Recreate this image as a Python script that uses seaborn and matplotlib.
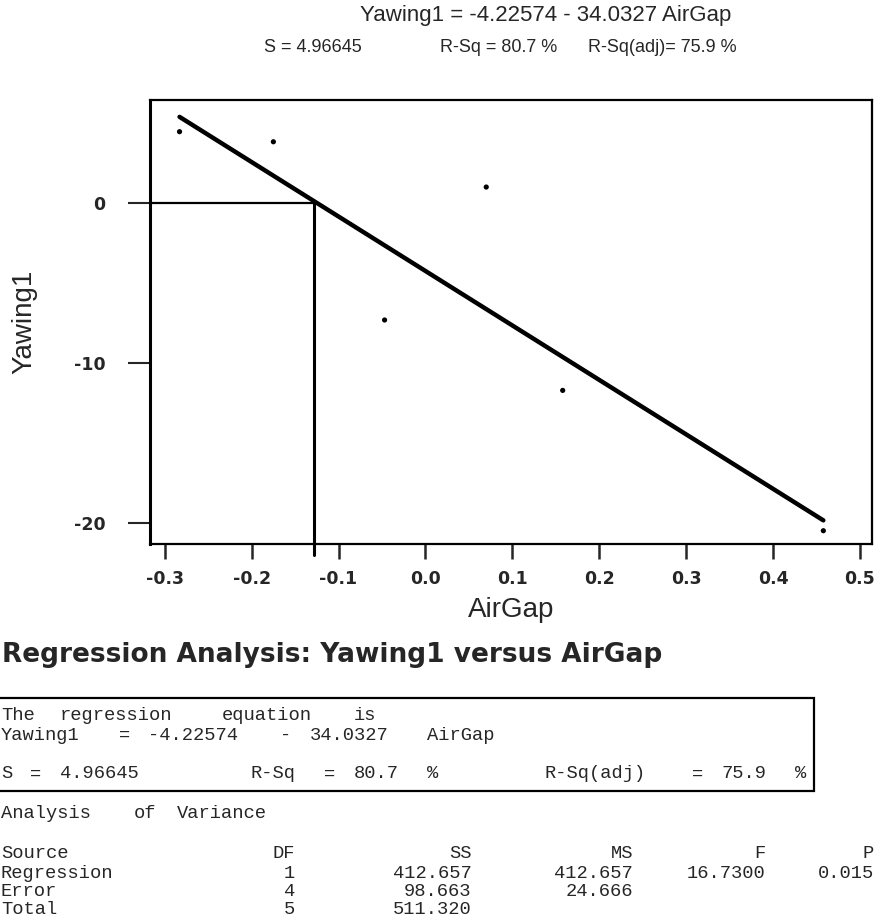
import re
import numpy as np
import pandas as pd
import matplotlib.pyplot as plt
from matplotlib.patches import Rectangle
import seaborn as sns

# Values
air_gap = [-0.283, -0.175, 0.070, -0.047, 0.158, 0.458]
yawing = [4.48, 3.85, 1.02, -7.29, -11.69, -20.46]

# Fitted equation and the marked point where the fit crosses zero
intercept = -4.22574
slope = -34.0327
air_gap_marked = -0.128

x_ticks = [-0.3, -0.2, -0.1, 0.0, 0.1, 0.2, 0.3, 0.4, 0.5]
x_tick_labels = ['-0.3', '-0.2', '-0.1', '0.0', '0.1', '0.2', '0.3', '0.4', '0.5']
y_ticks = [0, -10, -20]
y_tick_labels = ['0', '-10', '-20']

s_value = '4.96645'
r_sq = '80.7'
r_sq_adj = '75.9'

anova_source = ['Regression', 'Error', 'Total']
anova_df = ['1', '4', '5']
anova_ss = ['412.657', '98.663', '511.320']
anova_ms = ['412.657', '24.666', '']
anova_f = ['16.7300', '', '']
anova_p = ['0.015', '', '']

sns.set_style("white")
plt.rcParams['font.family'] = ['DejaVu Sans']
plt.rcParams['axes.unicode_minus'] = False

W, H = 877, 918
fig = plt.figure(figsize=(W / 100, H / 100), dpi=100)
ax = fig.add_axes([150 / W, 1 - 544 / H, 722 / W, 444 / H])

df_pts = pd.DataFrame({'AirGap': air_gap, 'Yawing1': yawing})
x_fit = np.array([min(air_gap), max(air_gap)])
df_fit = pd.DataFrame({'AirGap': x_fit, 'Yawing1': intercept + slope * x_fit})

sns.lineplot(ax=ax, data=df_fit, x='AirGap', y='Yawing1', color='black', linewidth=3.2)
sns.scatterplot(ax=ax, data=df_pts, x='AirGap', y='Yawing1', color='black', s=14, edgecolor='none')

# reference lines at Yawing1 = 0
ax.plot([-0.317, air_gap_marked], [0, 0], color='black', linewidth=1.6)
ax.plot([air_gap_marked, air_gap_marked], [0, -22.0], color='black', linewidth=2.2, clip_on=False)

ax.set_xlim(-0.317, 0.514)
ax.set_ylim(-21.29, 6.46)
ax.set_xticks(x_ticks)
ax.set_xticklabels(x_tick_labels, fontsize=12.5, fontweight='bold')
ax.set_yticks(y_ticks)
ax.set_yticklabels(y_tick_labels, fontsize=12.5, fontweight='bold')
ax.tick_params(axis='y', length=16, width=1.5, pad=16, direction='out', left=True)
ax.tick_params(axis='x', length=11, width=1.8, pad=8, direction='out', bottom=True)

for side in ['top', 'right', 'bottom', 'left']:
    ax.spines[side].set_color('black')
    ax.spines[side].set_linewidth(1.6)
ax.spines['left'].set_linewidth(2.2)

ax.set_xlabel('AirGap', fontsize=20, family='Liberation Sans', labelpad=6)
ax.set_ylabel('Yawing1', fontsize=20, family='Liberation Sans', labelpad=26)


def fx(px):
    return px / W


def fy(py):
    return 1 - py / H


# header above the plot
fig.text(fx(546), fy(16), f'Yawing1 = {intercept} - {abs(slope)} AirGap',
         fontsize=16, family='Liberation Sans', ha='center', va='center')
head2 = dict(fontsize=13, family='Liberation Sans', va='center')
fig.text(fx(264), fy(48), f'S = {s_value}', ha='left', **head2)
fig.text(fx(440), fy(48), f'R-Sq = {r_sq} %', ha='left', **head2)
fig.text(fx(737), fy(48), f'R-Sq(adj)= {r_sq_adj} %', ha='right', **head2)

# session window text below the plot
fig.text(fx(2), fy(655), 'Regression Analysis: Yawing1 versus AirGap',
         fontsize=19, fontweight='bold', ha='left', va='center')

# fixed-pitch session output: words placed on their character columns
PITCH = 14.7
mono = dict(family='Liberation Mono', fontsize=13.5, va='center')


def mono_line(text, py, table=False):
    for k, m in enumerate(re.finditer(r'\S+', text)):
        if table and k > 0:
            x = min(1 + m.end() * PITCH, 874)
            fig.text(fx(x), fy(py), m.group(), ha='right', **mono)
        else:
            fig.text(fx(1 + m.start() * PITCH), fy(py), m.group(), ha='left', **mono)


fig.patches.append(Rectangle((fx(-6), fy(790.7)), fx(820), 92.7 / H,
                             transform=fig.transFigure, fill=False,
                             edgecolor='black', linewidth=1.6))
mono_line('The regression equation is', 716)
mono_line(f'Yawing1 = {intercept} - {abs(slope)} AirGap', 735)
line_s = f'S = {s_value}'.ljust(17) + f'R-Sq = {r_sq} %'.ljust(20) + f'R-Sq(adj) = {r_sq_adj} %'
mono_line(line_s, 774)
mono_line('Analysis of Variance', 813)

header = f"{'Source':<10}{'DF':>10}{'SS':>12}{'MS':>11}{'F':>9}{'P':>8}"
mono_line(header, 853, table=True)
row_y = [873, 892, 910]
for i, src in enumerate(anova_source):
    row = f"{src:<10}{anova_df[i]:>10}{anova_ss[i]:>12}{anova_ms[i]:>11}{anova_f[i]:>9}{anova_p[i]:>8}"
    mono_line(row, row_y[i], table=True)

fig.savefig('out.png', dpi=100, facecolor='white')
